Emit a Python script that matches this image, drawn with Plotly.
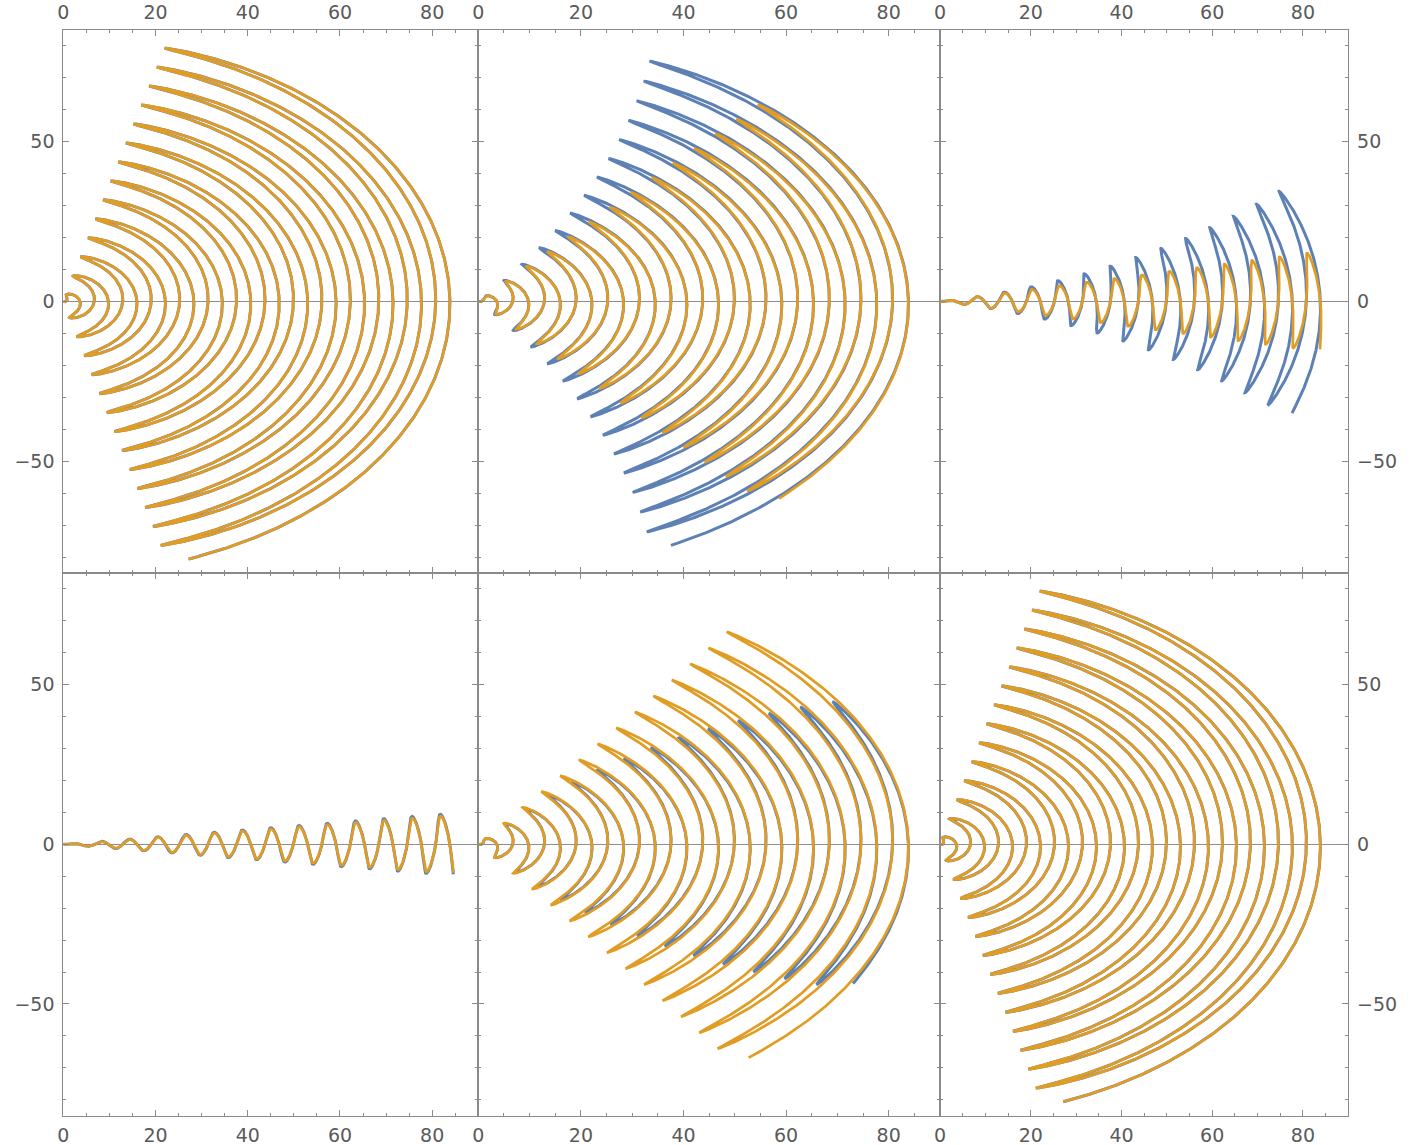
import numpy as np
import plotly.graph_objects as go

# ---- values -----------------------------------------------------------
# radial spacing of one full swing (crest-to-crest distance) and the radius
# of the outermost crest / the end of every curve
PERIOD = 6.17
R_CREST = 82.3
R_END = 85.1

# panels, row by row: top-left, top-middle, top-right, bottom-left, bottom-middle, bottom-right
PANELS = ["TL", "TM", "TR", "BL", "BM", "BR"]
# swing amplitude (degrees) measured at the inner start (r=0) and at the outer end
BLUE_AMP_START = [75.0, 51.0, 9.0, 6.6, 53.0, 75.0]
BLUE_AMP_END = [74.5, 66.6, 25.3, 6.6, 32.2, 74.5]
ORANGE_AMP_START = [75.0, 49.5, 10.6, 6.2, 53.0, 75.0]
ORANGE_AMP_END = [74.5, 48.5, 10.6, 6.2, 54.0, 74.5]

X_TICKS = [0, 20, 40, 60, 80]
Y_TICKS = [-50, 0, 50]
Y_TICK_TEXT = ["\u221250", "0", "50"]

BLUE = "#5E81B5"
ORANGE = "#E19C24"
FRAME = "#8a8a8a"
LABEL = "#5a5a5a"


def curve(a0, a1, n=9000):
    r = np.linspace(0.0, R_END, n)
    amp = np.radians(a0 + (a1 - a0) * r / R_END)
    phase = np.pi / 2 + 2 * np.pi * (r - R_CREST) / PERIOD
    th = amp * np.sin(phase)
    return r * np.cos(th), r * np.sin(th)


xdom = [[63.3 / 1426, 478.3 / 1426], [478.3 / 1426, 940 / 1426], [940 / 1426, 1348.3 / 1426]]
ydom = [[1 - 573 / 1145, 1 - 30 / 1145], [1 - 1115.7 / 1145, 1 - 573 / 1145]]

fig = go.Figure()
layout = dict(
    width=1426, height=1145,
    margin=dict(l=0, r=0, t=0, b=0, autoexpand=False),
    paper_bgcolor="white", plot_bgcolor="white",
    showlegend=False,
    font=dict(family="DejaVu Sans", size=19, color=LABEL),
)

for i, name in enumerate(PANELS):
    row, col = divmod(i, 3)
    k = "" if i == 0 else str(i + 1)
    xb, yb = curve(BLUE_AMP_START[i], BLUE_AMP_END[i])
    xo, yo = curve(ORANGE_AMP_START[i], ORANGE_AMP_END[i])
    fig.add_trace(go.Scatter(x=xb, y=yb, mode="lines", line=dict(color=BLUE, width=3.0),
                             xaxis="x" + k, yaxis="y" + k, hoverinfo="skip"))
    fig.add_trace(go.Scatter(x=xo, y=yo, mode="lines", line=dict(color=ORANGE, width=2.7),
                             xaxis="x" + k, yaxis="y" + k, hoverinfo="skip"))
    layout["xaxis" + k] = dict(
        domain=xdom[col], anchor="y" + k, range=[0, 90], automargin=False,
        showline=True, linecolor=FRAME, linewidth=1, mirror="ticks",
        ticks="inside", ticklen=6, tickcolor=FRAME, tickwidth=1,
        tickmode="array", tickvals=X_TICKS,
        minor=dict(tickmode="linear", tick0=0, dtick=5, ticks="inside", ticklen=3, tickcolor=FRAME),
        side="top" if row == 0 else "bottom",
        ticklabelstandoff=2,
        showgrid=False, zeroline=False, fixedrange=True,
        tickfont=dict(family="DejaVu Sans", size=19, color=LABEL),
    )
    layout["yaxis" + k] = dict(
        domain=ydom[row], anchor="x" + k, range=[-85, 85], automargin=False,
        showline=True, linecolor=FRAME, linewidth=1, mirror="ticks",
        ticks="inside", ticklen=6, tickcolor=FRAME, tickwidth=1,
        tickmode="array", tickvals=Y_TICKS, ticktext=Y_TICK_TEXT,
        minor=dict(tickmode="linear", tick0=0, dtick=10, ticks="inside", ticklen=3, tickcolor=FRAME),
        side="left" if col == 0 else "right",
        showticklabels=(col != 1),
        ticklabelstandoff=4,
        showgrid=False, zeroline=True, zerolinecolor="#8f8f8f", zerolinewidth=1,
        fixedrange=True,
        tickfont=dict(family="DejaVu Sans", size=19, color=LABEL),
    )

fig.update_layout(**layout)
fig.write_html("out.html", config={"displayModeBar": False})
